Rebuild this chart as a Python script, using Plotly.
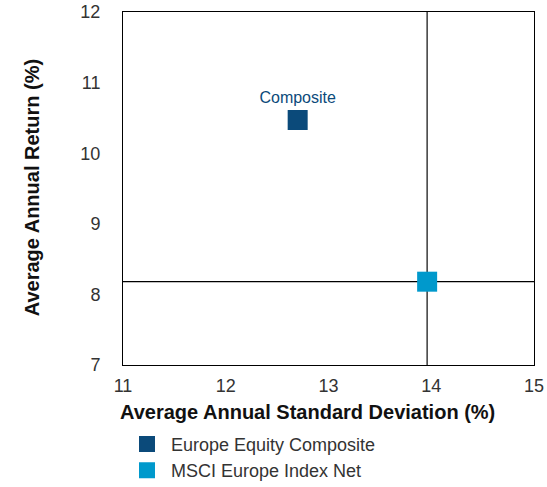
import plotly.graph_objects as go

series_names = ["Europe Equity Composite", "MSCI Europe Index Net"]
std_dev = [12.70, 13.96]
returns = [10.47, 8.18]
colors = ["#0b4a7a", "#0099cc"]
point_labels = ["Composite", ""]
x_ticks = [11, 12, 13, 14, 15]
y_ticks = [7, 8, 9, 10, 11, 12]

FONT = "Liberation Sans, Arial, sans-serif"

fig = go.Figure()
for i in range(2):
    fig.add_trace(go.Scatter(
        x=[std_dev[i]], y=[returns[i]], name=series_names[i],
        mode="markers+text" if point_labels[i] else "markers",
        text=[point_labels[i]], textposition="top center",
        textfont=dict(family=FONT, size=16, color=colors[0]),
        marker=dict(symbol="square", size=20, color=colors[i],
                    line=dict(width=0)),
        cliponaxis=False,
    ))

# benchmark crosshair lines
fig.add_shape(type="line", xref="x", yref="paper", x0=std_dev[1], x1=std_dev[1],
              y0=0, y1=1, line=dict(color="#3a3a3a", width=1.5), layer="below")
fig.add_shape(type="line", xref="paper", yref="y", x0=0, x1=1,
              y0=returns[1], y1=returns[1], line=dict(color="#000000", width=1.2), layer="below")

fig.add_annotation(xref="paper", yref="paper", x=0.448, y=-0.133, xanchor="center", yanchor="middle",
                   text="<b>Average Annual Standard Deviation (%)</b>", showarrow=False,
                   font=dict(family=FONT, size=20, color="#111111"))
fig.add_annotation(xref="paper", yref="paper", x=-0.221, y=0.501, xanchor="center", yanchor="middle",
                   text="<b>Average Annual Return (%)</b>", showarrow=False, textangle=-90,
                   font=dict(family=FONT, size=20, color="#111111"))

fig.update_layout(
    width=547, height=487,
    margin=dict(l=123, r=13, t=12, b=122, autoexpand=False),
    plot_bgcolor="white", paper_bgcolor="white",
    font=dict(family=FONT, size=18, color="#333333"),
    showlegend=True,
    legend=dict(x=0.0, y=-0.172, xanchor="left", yanchor="top", orientation="v",
                font=dict(family=FONT, size=18, color="#333333"),
                itemwidth=38, tracegroupgap=0, bgcolor="rgba(0,0,0,0)"),
)
fig.update_xaxes(range=[11, 15], tickvals=x_ticks, showgrid=False, zeroline=False,
                 showline=True, linecolor="#000000", linewidth=1, mirror=True,
                 ticks="", ticklabelstandoff=4, automargin=False, ticklabeloverflow="allow",
                 tickfont=dict(family=FONT, size=18, color="#333333"))
fig.update_yaxes(range=[7, 12], tickvals=y_ticks, showgrid=False, zeroline=False,
                 showline=True, linecolor="#000000", linewidth=1, mirror=True,
                 ticks="", ticklabelstandoff=18, automargin=False, ticklabeloverflow="allow",
                 tickfont=dict(family=FONT, size=18, color="#333333"))

fig.write_html("out.html", config={"displayModeBar": False},
               post_script="document.body.style.margin='0';document.body.style.overflow='hidden';")
